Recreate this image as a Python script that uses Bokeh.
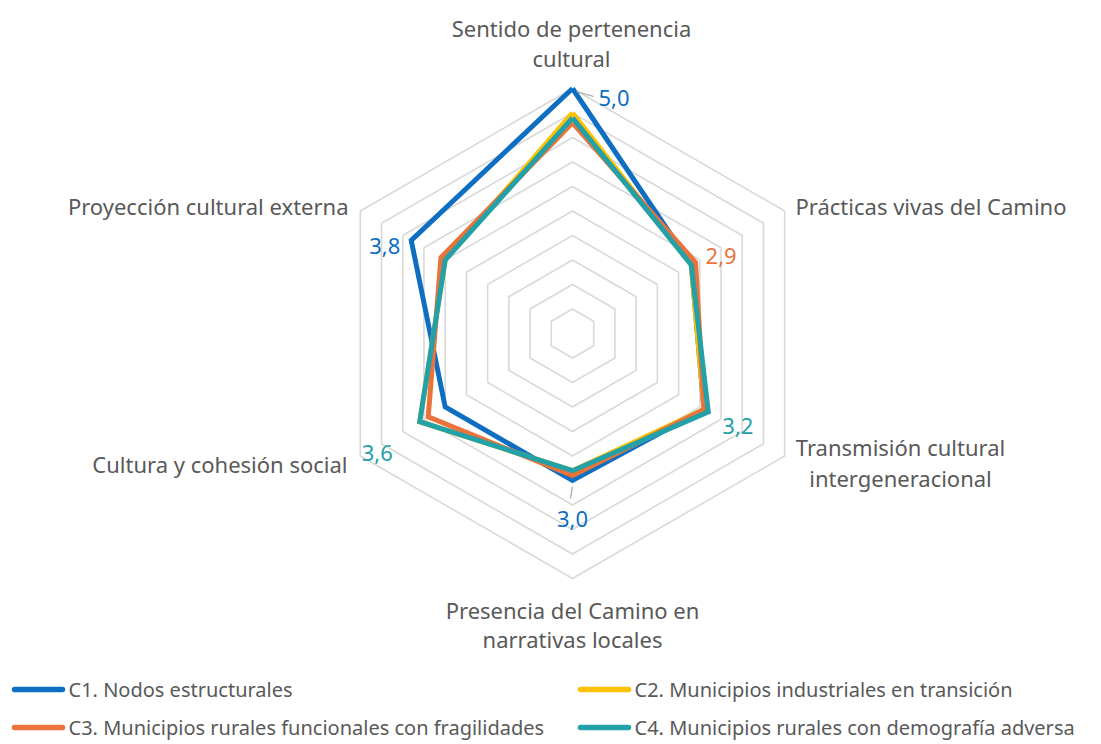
import numpy as np
from bokeh.plotting import figure
from bokeh.models import Range1d
from bokeh.core.properties import value
from bokeh.embed import file_html
from bokeh.resources import INLINE

# ---------------- data ----------------
categories = [
    "Sentido de pertenencia\ncultural",
    "Prácticas vivas del Camino",
    "Transmisión cultural\nintergeneracional",
    "Presencia del Camino en\nnarrativas locales",
    "Cultura y cohesión social",
    "Proyección cultural externa",
]
series_names = [
    "C1. Nodos estructurales",
    "C2. Municipios industriales en transición",
    "C3. Municipios rurales funcionales con fragilidades",
    "C4. Municipios rurales con demografía adversa",
]
c1_values = [5.0, 2.8, 3.1, 3.0, 3.0, 3.8]
c2_values = [4.5, 2.8, 3.1, 2.8, 3.6, 3.0]
c3_values = [4.3, 2.9, 3.1, 2.9, 3.4, 3.1]
c4_values = [4.4, 2.8, 3.2, 2.8, 3.6, 3.0]
series_values = [c1_values, c2_values, c3_values, c4_values]
series_colors = ["#0E6FC2", "#FFC000", "#E9733A", "#22A1A8"]
grid_levels = [0.5, 1.0, 1.5, 2.0, 2.5, 3.0, 3.5, 4.0, 4.5, 5.0]
# data labels: (series index, category index, text)
data_labels = [(0, 0, "5,0"), (2, 1, "2,9"), (3, 2, "3,2"), (0, 3, "3,0"), (3, 4, "3,6"), (0, 5, "3,8")]

# ---------------- layout ----------------
W, H = 1101, 744
CX, CY = 572, 333       # centre in screen px
S = 49.0                # px per unit

def sx(x):
    return (x - CX) / S

def sy(y):
    return (CY - y) / S

angles = np.deg2rad(90 - 60 * np.arange(len(categories)))

def polar(vals):
    v = np.asarray(vals, dtype=float)
    return v * np.cos(angles), v * np.sin(angles)

p = figure(width=W, height=H, output_backend="svg", toolbar_location=None,
           x_range=Range1d(sx(0), sx(W)), y_range=Range1d(sy(H), sy(0)),
           min_border=0, outline_line_color=None)
p.axis.visible = False
p.grid.visible = False
p.background_fill_color = "white"
p.border_fill_color = "white"

FONT = value("Noto Sans")
TXT = "#595959"

# grid hexagons
for g in grid_levels:
    gx, gy = polar([g] * len(categories))
    p.line(list(gx) + [gx[0]], list(gy) + [gy[0]], line_color="#D9D9D9", line_width=1.6)

# series
for vals, col in zip(series_values, series_colors):
    x, y = polar(vals)
    p.line(list(x) + [x[0]], list(y) + [y[0]], line_color=col, line_width=5, line_join="miter")

# category labels: (screen x, screen y of each line, align)
cat_pos = [(571, [27, 57], "center"), (795, [205], "left"), (900, [446, 477], "center"),
           (572, [609, 638], "center"), (347, [463], "right"), (348, [205], "right")]
for lab, (x, ys, al) in zip(categories, cat_pos):
    for line_txt, y in zip(lab.split("\n"), ys):
        p.text([sx(x)], [sy(y)], text=[line_txt], text_font=FONT, text_font_size="22px",
               text_color=TXT, text_align=al, text_baseline="middle")

# data labels
lab_off = {0: (26, 9, "left"), 1: (10, -6, "left"), 2: (14, 14, "left"),
           3: (0, 38, "center"), 4: (-27, 31, "right"), 5: (-11, 6, "right")}
for si, ci, t in data_labels:
    x, y = polar(series_values[si])
    ox, oy, al = lab_off[ci]
    p.text([x[ci]], [y[ci]], text=[t], x_offset=ox, y_offset=oy, text_font=FONT,
           text_font_size="22px", text_color=series_colors[si], text_align=al,
           text_baseline="middle")

# leader lines
x1, y1 = polar(series_values[0])
p.segment([x1[0] + 4 / S], [y1[0] - 3 / S], [x1[0] + 21 / S], [y1[0] - 8 / S],
          line_color="#A6A6A6", line_width=1.2)
p.segment([x1[3]], [y1[3] - 6 / S], [x1[3] - 2 / S], [y1[3] - 18 / S],
          line_color="#A6A6A6", line_width=1.2)

# legend (manual, 2 columns)
leg_pos = [(14, 689), (580, 689), (14, 727), (580, 727)]
for name, col, (x, y) in zip(series_names, series_colors, leg_pos):
    p.line([sx(x), sx(x + 48)], [sy(y), sy(y)], line_color=col, line_width=5.5, line_cap="round")
    p.text([sx(x + 54)], [sy(y)], text=[name], text_font=FONT, text_font_size="20px",
           text_color=TXT, text_align="left", text_baseline="middle")

open("out.html", "w").write(file_html(p, INLINE))
